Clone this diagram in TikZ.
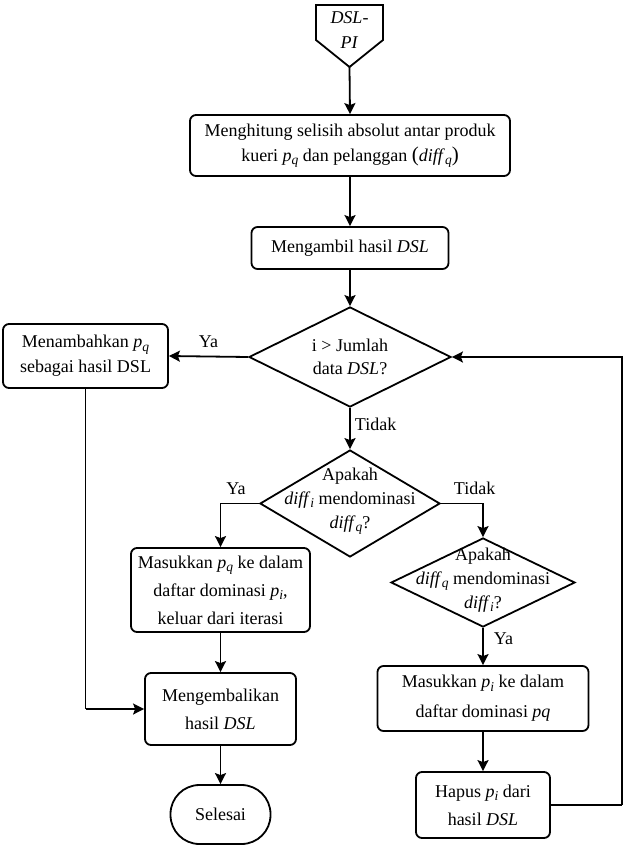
\documentclass[tikz,border=0pt]{standalone}
\usepackage{fontspec}
\setmainfont{Liberation Serif}
\usetikzlibrary{shapes.geometric,arrows.meta}
\newcommand\isub[2]{\textit{#1}\raisebox{-0.4ex}{\fontsize{13.5}{13.5}\selectfont\textit{#2}}}
\begin{document}
\begin{tikzpicture}[x=1pt,y=-1pt,line width=1.8pt,
  every node/.style={font=\fontsize{18}{25}\selectfont},
  proc/.style={draw,rounded corners=6pt,align=center,inner sep=0pt},
  dec/.style={draw,diamond,inner sep=0pt},
  dtext/.style={align=center,inner sep=0pt},
  flow/.style={-{Stealth[length=11pt,width=11pt,inset=2pt]}},
  lbl/.style={inner sep=0pt}]
\useasboundingbox (0,0) rectangle (632,846);

% off-page start connector
\draw (316,5) -- (383,5) -- (383,40) -- (349.5,67) -- (316,40) -- cycle;
\node[dtext] (start) at (349.5,30) {\textit{DSL-}\\\textit{PI}};
\coordinate (startpt) at (349.5,67);

% process boxes
\node[proc,minimum width=320,minimum height=61] (b1) at (350,145.5)
  {Menghitung selisih absolut antar produk\\kueri \isub{p}{q} dan pelanggan {\fontsize{21}{21}\selectfont(}\isub{diff}{q}{\fontsize{21}{21}\selectfont)}};
\node[proc,minimum width=197,minimum height=42] (b2) at (350,248)
  {Mengambil hasil \textit{DSL}};
\node[proc,minimum width=165,minimum height=64] (b3) at (85.5,356)
  {Menambahkan \isub{p}{q}\\sebagai hasil DSL};
\node[proc,minimum width=179,minimum height=84,font=\fontsize{18}{28}\selectfont] (b4) at (220.5,590)
  {Masukkan \isub{p}{q} ke dalam\\daftar dominasi \isub{p}{i},\\keluar dari iterasi};
\node[proc,minimum width=211,minimum height=65,font=\fontsize{18}{30}\selectfont] (b5) at (483,698.5)
  {Masukkan \isub{p}{i} ke dalam\\daftar dominasi \textit{pq}};
\node[proc,minimum width=134,minimum height=66,font=\fontsize{18}{28}\selectfont] (b6) at (483,805)
  {Hapus \isub{p}{i} dari\\hasil \textit{DSL}};
\node[proc,minimum width=151,minimum height=72,font=\fontsize{18}{28}\selectfont] (b7) at (220.5,709)
  {Mengembalikan\\hasil \textit{DSL}};
\node[draw,rounded corners=29pt,minimum width=100,minimum height=59,inner sep=0pt] (end) at (220.5,814.5)
  {Selesai};

% decisions
\node[dec,minimum width=202,minimum height=100] (d1) at (350,357) {};
\node[dtext,font=\fontsize{18}{23}\selectfont] at (350,357) {i > Jumlah\\data \textit{DSL}?};
\node[dec,minimum width=180,minimum height=107] (d2) at (350,503.5) {};
\node[dtext,font=\fontsize{18}{24}\selectfont] at (350,501) {Apakah\\\isub{diff}{i} mendominasi\\\isub{diff}{q}?};
\node[dec,minimum width=184,minimum height=89] (d3) at (483,582.5) {};
\node[dtext,font=\fontsize{18}{24}\selectfont] at (483,580) {Apakah\\\isub{diff}{q} mendominasi\\\isub{diff}{i}?};

% connectors
\coordinate (loop) at (622,805);
\coordinate (leftdown) at (85.5,709);
\draw[flow] (startpt) -- (b1.north);
\draw[flow] (b1.south) -- (b2.north);
\draw[flow] (b2.south) -- (d1.north);
\draw[flow] (d1.west) -- node[lbl,above=8pt] {Ya} (b3.east);
\draw[flow] (d1.south) -- node[lbl,right=4pt,pos=0.4] {Tidak} (d2.north);
\draw (b3.south) -- (leftdown);
\draw[flow] (leftdown) -- (b7.west);
\draw[flow] (d2.west) -| node[lbl,above=8pt,pos=0.3] {Ya} (b4.north);
\draw[flow] (d2.east) -| node[lbl,above=8pt,pos=0.4] {Tidak} (d3.north);
\draw[flow] (d3.south) -- node[lbl,right=10pt,pos=0.3] {Ya} (b5.north);
\draw[flow] (b5.south) -- (b6.north);
\draw[flow] (b4.south) -- (b7.north);
\draw[flow] (b7.south) -- (end.north);
\draw (b6.east) -- (loop);
\draw[flow] (loop) |- (d1.east);
\end{tikzpicture}
\end{document}
